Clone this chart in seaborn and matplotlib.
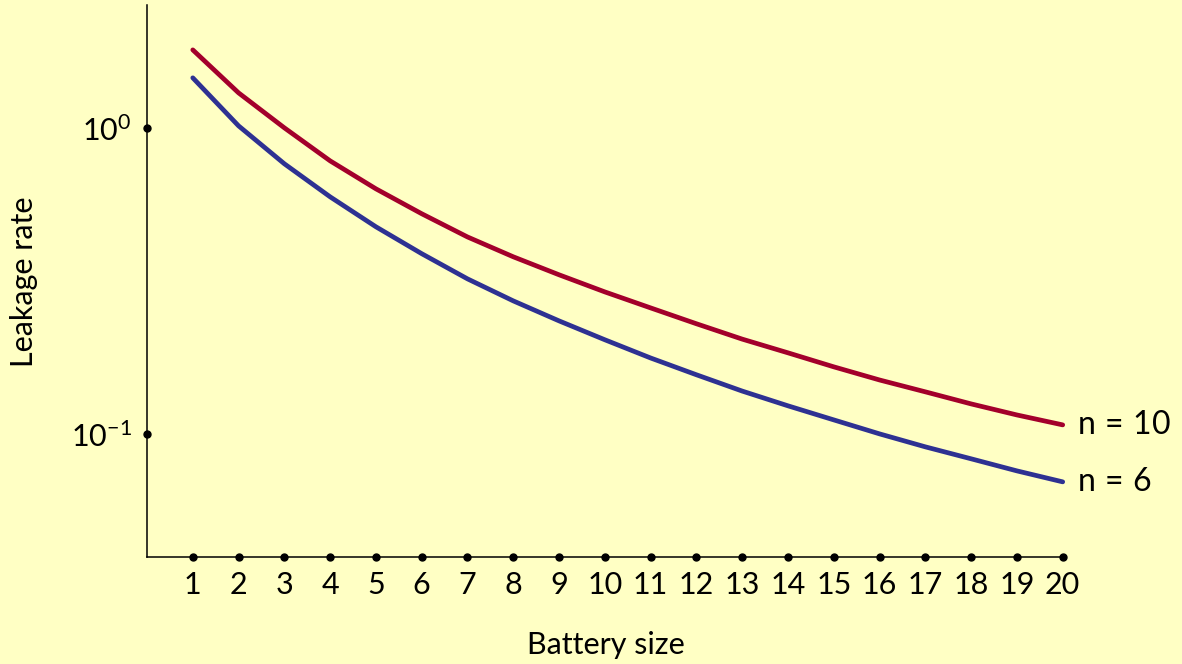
import numpy as np
import pandas as pd
import matplotlib
matplotlib.use("Agg")
import matplotlib.pyplot as plt
import seaborn as sns

# ---- data ----
battery_size = list(range(1, 21))
leak_n10 = [1.798, 1.301, 1.000, 0.780, 0.632, 0.524, 0.440, 0.379, 0.331, 0.291,
            0.258, 0.229, 0.204, 0.184, 0.1656, 0.150, 0.1372, 0.1253, 0.1153, 0.1070]
leak_n6 = [1.457, 1.015, 0.763, 0.595, 0.475, 0.388, 0.321, 0.272, 0.234, 0.203,
           0.177, 0.156, 0.138, 0.1235, 0.1111, 0.100, 0.0907, 0.0829, 0.0757, 0.0697]
series_labels = ["n = 10", "n = 6"]
series_math = [r"$n\,=\,10$", r"$n\,=\,6$"]
x_ticks = list(range(1, 21))
y_ticks = [1.0, 0.1]
y_tick_labels = [r"$10^{0}$", r"$10^{-1}$"]

BG = "#ffffc4"
RED = "#a3002b"
BLUE = "#2e3192"

sns.set_theme(style="white")
plt.rcParams["font.family"] = ["Lato", "DejaVu Sans"]
plt.rcParams["mathtext.fontset"] = "custom"
plt.rcParams["mathtext.rm"] = "Lato"
plt.rcParams["mathtext.it"] = "Lato"
plt.rcParams["mathtext.bf"] = "Lato:bold"

df = pd.DataFrame({
    "Battery size": battery_size * 2,
    "Leakage rate": leak_n10 + leak_n6,
    "series": [series_labels[0]] * 20 + [series_labels[1]] * 20,
})

W, H = 1182, 664
fig = plt.figure(figsize=(W / 100, H / 100), dpi=100, facecolor=BG)
ax = fig.add_axes([147 / W, (H - 557) / H, 918 / W, 552 / H])
ax.set_facecolor(BG)

sns.lineplot(data=df, x="Battery size", y="Leakage rate", hue="series",
             palette={series_labels[0]: RED, series_labels[1]: BLUE},
             linewidth=3.4, legend=False, ax=ax)
for ln in ax.get_lines():
    ln.set_solid_capstyle("round")
    ln.set_solid_joinstyle("round")

ax.set_yscale("log")
ax.set_xlim(0, 20.05)
ax.set_ylim(0.0396, 2.52)

for s in ["top", "right"]:
    ax.spines[s].set_visible(False)
for s in ["left", "bottom"]:
    ax.spines[s].set_color("black")
    ax.spines[s].set_linewidth(1.1)

ax.set_xticks(x_ticks)
ax.set_xticklabels([str(t) for t in x_ticks], fontsize=22)
ax.set_yticks(y_ticks)
ax.set_yticklabels(y_tick_labels, fontsize=22)
ax.yaxis.set_minor_locator(matplotlib.ticker.NullLocator())
ax.tick_params(axis="x", length=0, pad=10, colors="black")
ax.tick_params(axis="y", length=0, pad=11, colors="black")

# tick dots on the axis lines
ax.plot(x_ticks, [0.0396] * len(x_ticks), "o", color="black", markersize=5,
        clip_on=False, zorder=5)
ax.plot([0] * len(y_ticks), y_ticks, "o", color="black", markersize=5,
        clip_on=False, zorder=5)

ax.set_xlabel("")
ax.set_ylabel("")
fig.text(606 / W, (H - 654) / H, "Battery size", fontsize=22, ha="center",
         va="baseline", color="black")
fig.text(24 / W, 1 - 282 / H, "Leakage rate", fontsize=22, ha="center",
         va="center", rotation=90, color="black")

# direct labels at line ends
ax.text(battery_size[-1] + 0.32, leak_n10[-1], series_math[0], fontsize=23,
        va="center", ha="left", color="black", clip_on=False)
ax.text(battery_size[-1] + 0.32, leak_n6[-1], series_math[1], fontsize=23,
        va="center", ha="left", color="black", clip_on=False)

fig.savefig("out.png", dpi=100, facecolor=BG)
